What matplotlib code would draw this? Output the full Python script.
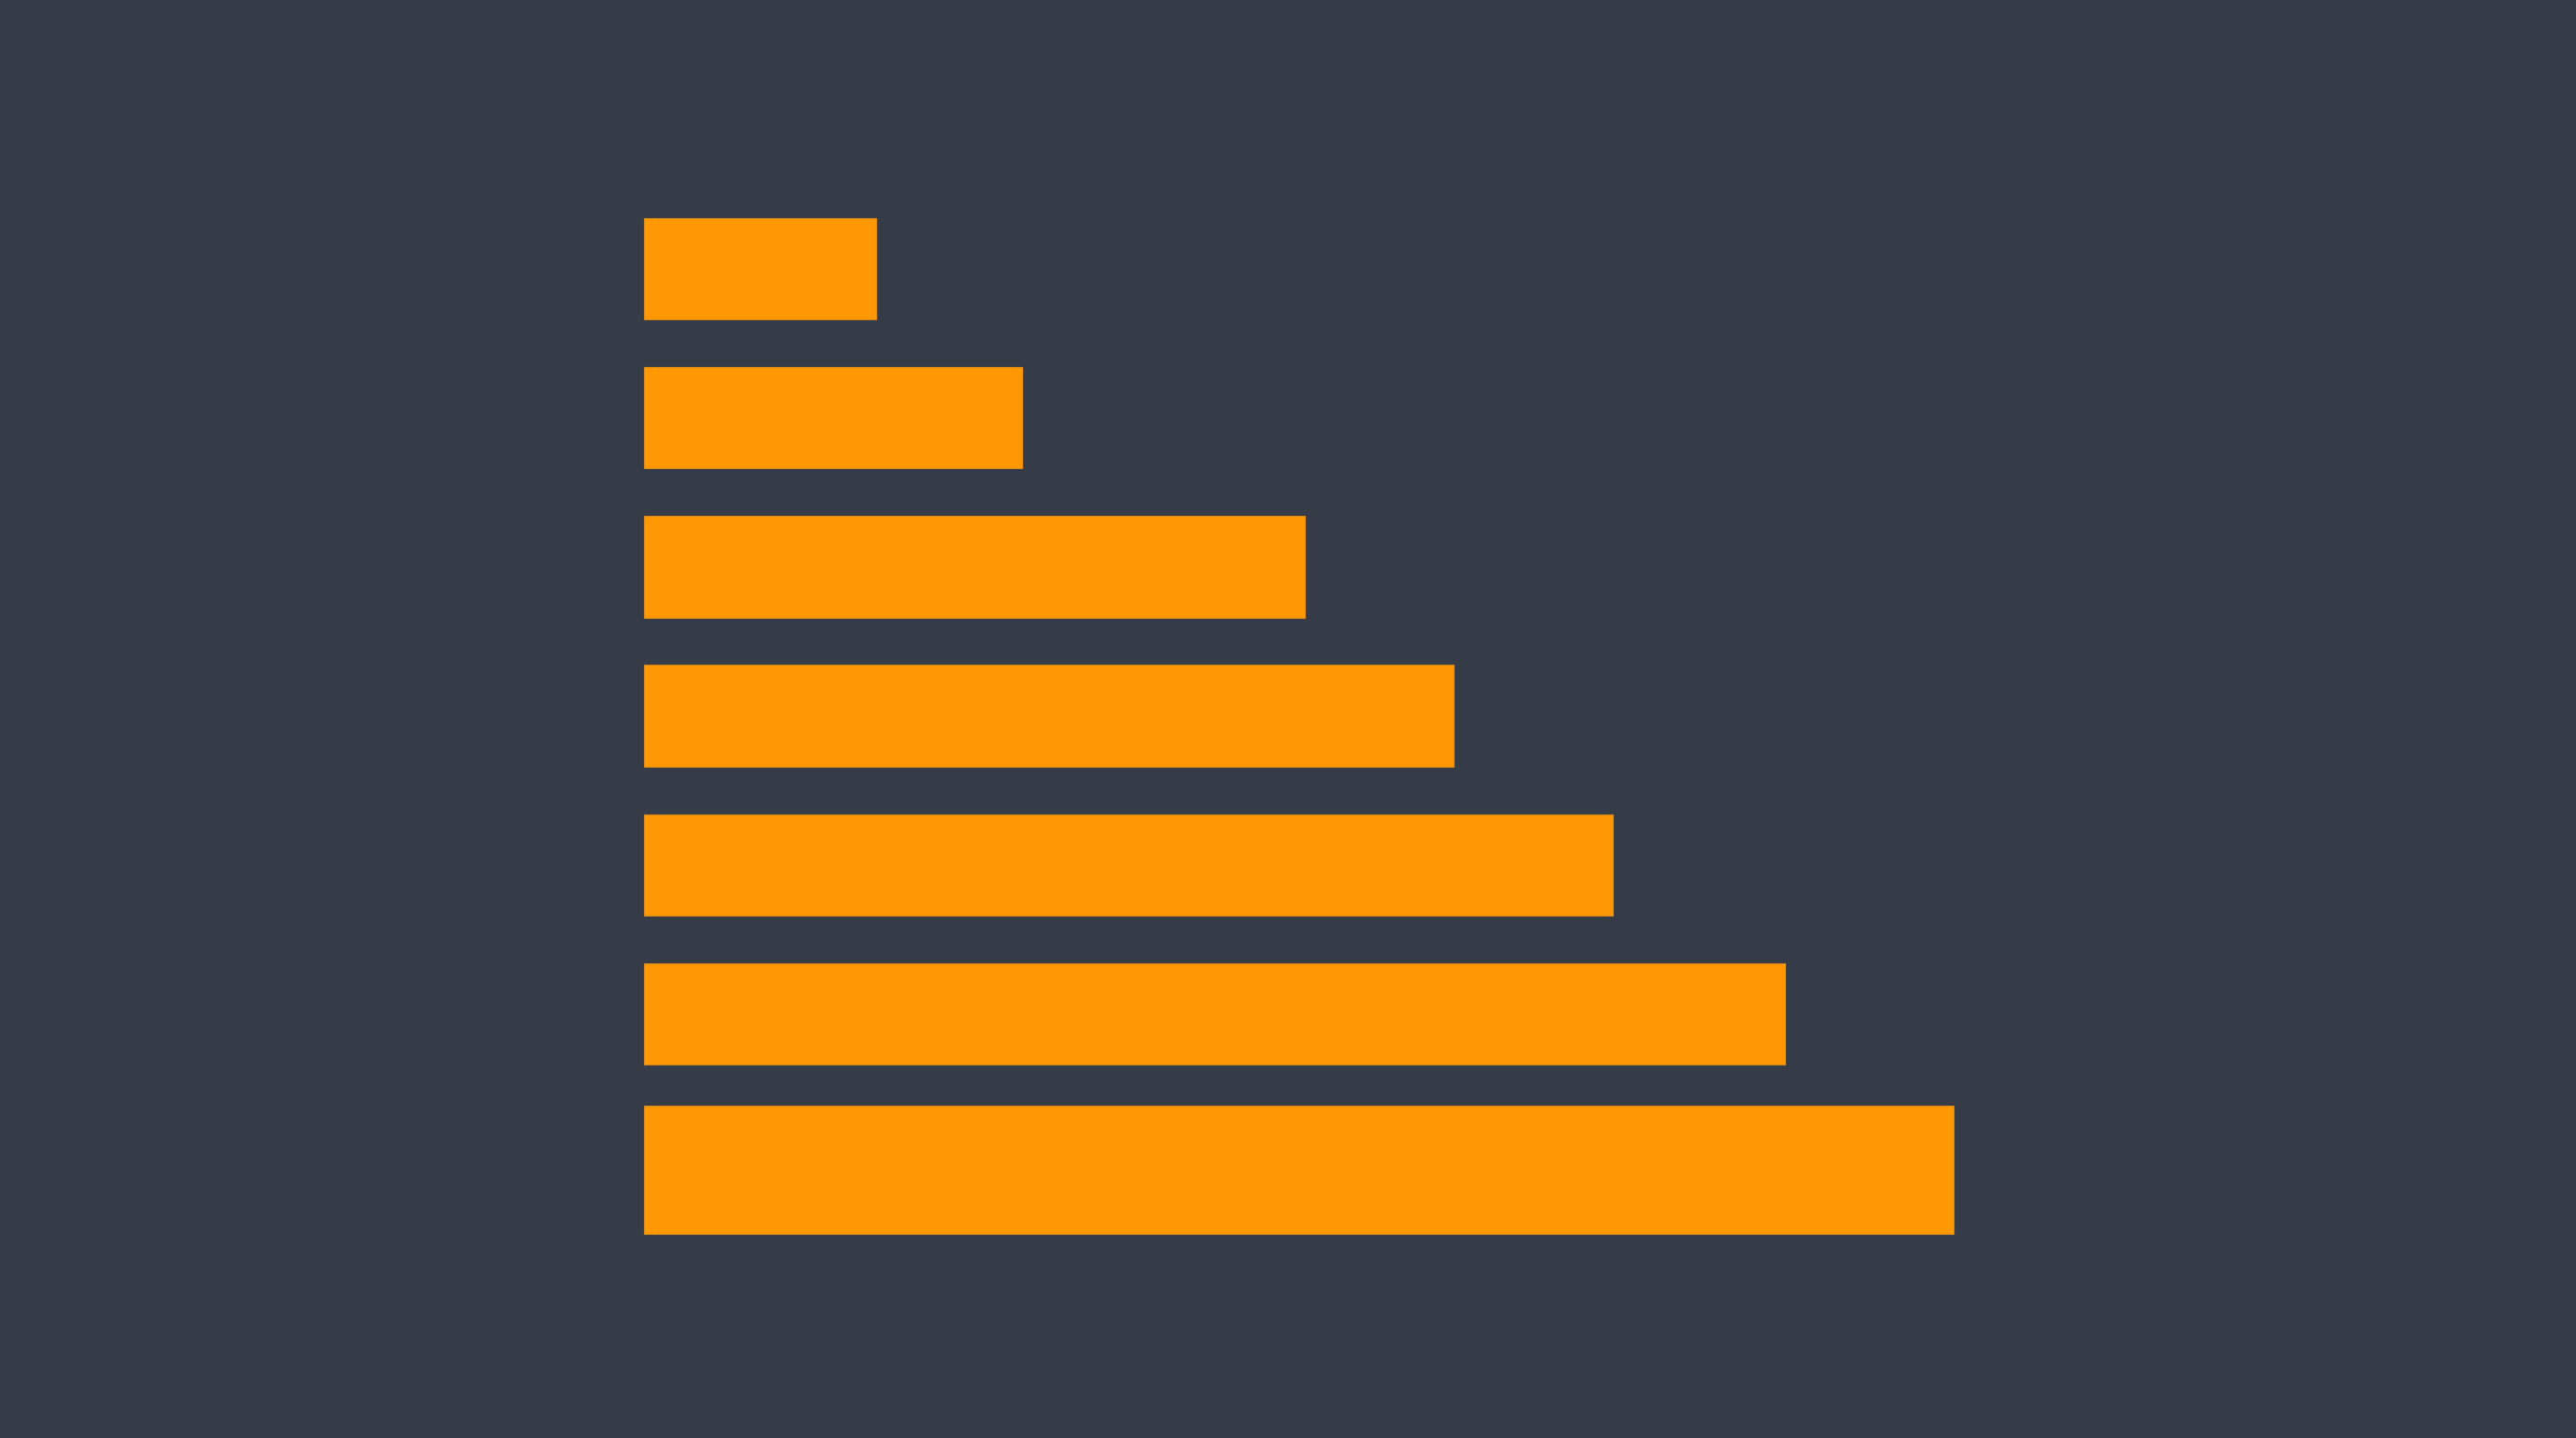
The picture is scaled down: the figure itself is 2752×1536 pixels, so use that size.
import matplotlib
matplotlib.use("Agg")
import matplotlib.pyplot as plt

# Data (relative scale with the longest bar = 100)
categories = ["A", "B", "C", "D", "E", "F", "G"]
values = [17.7, 28.9, 50.5, 61.8, 74.0, 87.1, 100.0]

# Style / layout
bg = "#363c47"
bar_color = "#ff9802"
positions = [0, 1, 2, 3, 4, 5, 6.046]
heights = [0.68, 0.68, 0.68, 0.68, 0.68, 0.68, 0.86]

W, H = 2752, 1536
dpi = 200
fig = plt.figure(figsize=(W / dpi, H / dpi), dpi=dpi, facecolor=bg)
ax = fig.add_axes([0, 0, 1, 1])
ax.set_facecolor(bg)

ax.barh(positions, values, height=heights, color=bar_color,
        edgecolor="#d98a1a", linewidth=0.4)

px_per_unit = (2087 - 688) / 100.0
ax.set_xlim(-688 / px_per_unit, (W - 688) / px_per_unit)
spacing = 159.2
ax.set_ylim((H - 287) / spacing, -287 / spacing)
ax.axis("off")

fig.savefig("out.png", dpi=dpi, facecolor=bg)
